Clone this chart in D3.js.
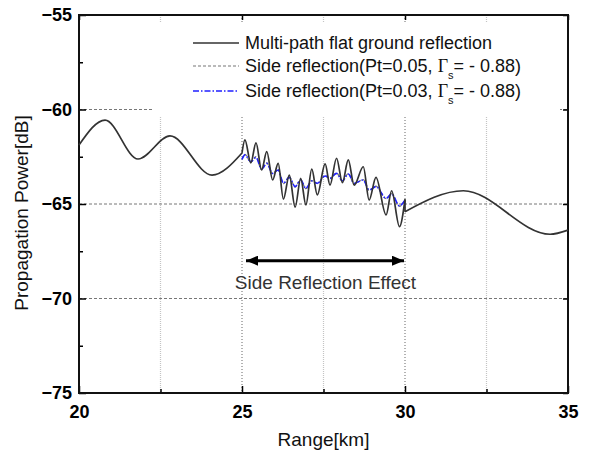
<!DOCTYPE html>
<meta charset="utf-8">
<style>
    body { margin: 0; background: #fff; }
    svg { font-family: "Liberation Sans", Arial, sans-serif; }
    .axis text { font-size: 18px; font-weight: bold; fill: #000; font-family: "Liberation Sans", Arial, sans-serif; }
    .axis line { stroke: #000; stroke-width: 1.5; }
    .axis path { display: none; }
</style>
<svg width="594" height="457"></svg>
<script src="https://d3js.org/d3.v7.min.js"></script>
<script>

    // multi-path flat ground reflection, split where the side reflection kicks in
    var leftRange = [20.0, 20.80, 21.81, 22.79, 24.08, 25.0];
    var leftPower = [-61.88, -60.56, -62.62, -61.40, -63.47, -62.30];

    var midRange = [25.0, 25.09, 25.27, 25.43, 25.60, 25.76, 25.94, 26.11, 26.27, 26.45,
                    26.63, 26.80, 26.96, 27.14, 27.31, 27.55, 27.70, 27.90, 28.08, 28.26,
                    28.44, 28.72, 28.90, 29.11, 29.42, 29.59, 29.83, 30.0];
    var midPower = [-62.30, -61.61, -62.83, -61.77, -63.20, -62.23, -63.73, -62.85, -64.74, -63.47,
                    -65.17, -63.64, -65.05, -63.16, -64.52, -62.88, -64.00, -62.58, -63.87, -62.67,
                    -64.00, -63.03, -64.79, -63.59, -65.58, -64.30, -66.20, -64.75];

    var rightRange = [30.0, 31.79, 34.45, 35.0];
    var rightPower = [-65.41, -64.30, -66.60, -66.38];

    // side reflection curves (25..30 km)
    var side05Power = [-62.62, -62.38, -62.78, -62.50, -63.18, -62.83, -63.40, -63.18, -63.92, -63.57,
                       -64.10, -63.71, -64.19, -63.76, -63.92, -63.50, -63.66, -63.36, -63.79, -63.39,
                       -63.92, -63.71, -64.28, -64.06, -64.72, -64.45, -65.12, -64.77];
    var side03Power = [-62.64, -62.40, -62.76, -62.53, -63.16, -62.85, -63.38, -63.20, -63.90, -63.59,
                       -64.08, -63.73, -64.17, -63.78, -63.90, -63.52, -63.64, -63.38, -63.77, -63.41,
                       -63.90, -63.73, -64.26, -64.08, -64.70, -64.47, -65.10, -64.79];

    var xTicks = [20, 25, 30, 35],
        xMinor = [22.5, 27.5, 32.5],
        yTicks = [-75, -70, -65, -60, -55],
        yMinor = [-72.5, -67.5, -62.5, -57.5],
        xGridMajor = [25, 30],
        xGridMinor = [22.5, 27.5, 32.5],
        yGrid = [-70, -65, -60];

    var legendLabels = ["Multi-path flat ground reflection",
                        "Side reflection(Pt=0.05, ",
                        "Side reflection(Pt=0.03, "];

    var svg = d3.select("svg"),
        margin = {top: 15, right: 26, bottom: 64, left: 79},
        width = +svg.attr("width") - margin.left - margin.right,
        height = +svg.attr("height") - margin.top - margin.bottom;

    var x = d3.scaleLinear().domain([20, 35]).range([0, width]),
        y = d3.scaleLinear().domain([-75, -55]).range([height, 0]);

    var g = svg.append("g")
        .attr("transform", "translate(" + margin.left + "," + margin.top + ")");

    // grid
    g.selectAll(".vgrid-minor").data(xGridMinor).enter().append("line")
        .attr("x1", function(d) { return x(d); }).attr("x2", function(d) { return x(d); })
        .attr("y1", 0).attr("y2", height)
        .attr("stroke", "#c4c4c4").attr("stroke-width", 1.2).attr("stroke-dasharray", "1,1");
    g.selectAll(".vgrid-major").data(xGridMajor).enter().append("line")
        .attr("x1", function(d) { return x(d); }).attr("x2", function(d) { return x(d); })
        .attr("y1", 0).attr("y2", height)
        .attr("stroke", "#666").attr("stroke-width", 1).attr("stroke-dasharray", "1,2");
    g.selectAll(".hgrid").data(yGrid).enter().append("line")
        .attr("x1", 0).attr("x2", width)
        .attr("y1", function(d) { return y(d); }).attr("y2", function(d) { return y(d); })
        .attr("stroke", "#777").attr("stroke-width", 1).attr("stroke-dasharray", "3,2");

    // legend box hides the grid behind it
    var legend = g.append("g");
    legend.append("rect")
        .attr("x", 73).attr("y", 7)
        .attr("width", 408).attr("height", 94)
        .attr("fill", "#fff");

    // axes (ticks inward)
    g.append("g").attr("class", "axis")
        .attr("transform", "translate(0," + height + ")")
        .call(d3.axisBottom(x).tickValues(xTicks).tickSizeInner(-7).tickSizeOuter(0).tickPadding(12).tickFormat(d3.format("d")));
    g.append("g").attr("class", "axis")
        .attr("transform", "translate(0," + height + ")")
        .call(d3.axisBottom(x).tickValues(xMinor).tickSizeInner(-4).tickSizeOuter(0).tickFormat(""));
    g.append("g").attr("class", "axis")
        .call(d3.axisTop(x).tickValues(xTicks).tickSizeInner(-5).tickSizeOuter(0).tickFormat(""));
    g.append("g").attr("class", "axis")
        .call(d3.axisLeft(y).tickValues(yTicks).tickSizeInner(-7).tickSizeOuter(0).tickPadding(7).tickFormat(d3.format("d")));
    g.append("g").attr("class", "axis")
        .call(d3.axisLeft(y).tickValues(yMinor).tickSizeInner(-4).tickSizeOuter(0).tickFormat(""));
    g.append("g").attr("class", "axis")
        .attr("transform", "translate(" + width + ",0)")
        .call(d3.axisRight(y).tickValues(yTicks).tickSizeInner(-5).tickSizeOuter(0).tickFormat(""));

    g.append("rect")
        .attr("width", width).attr("height", height)
        .attr("fill", "none").attr("stroke", "#111").attr("stroke-width", 2);

    var line = d3.line()
        .curve(d3.curveMonotoneX)
        .x(function(d) { return x(d[0]); })
        .y(function(d) { return y(d[1]); });

    function pairs(xs, ys) { return xs.map(function(v, i) { return [v, ys[i]]; }); }

    g.append("path").datum(pairs(midRange, side05Power))
        .attr("fill", "none").attr("stroke", "#777").attr("stroke-width", 1.3)
        .attr("stroke-dasharray", "3,2").attr("d", line);

    g.append("path").datum(pairs(midRange, side03Power))
        .attr("fill", "none").attr("stroke", "#1f1fff").attr("stroke-width", 1.6)
        .attr("stroke-dasharray", "6,2,1.5,2").attr("d", line);

    [pairs(leftRange, leftPower), pairs(midRange, midPower), pairs(rightRange, rightPower)].forEach(function(seg) {
        g.append("path").datum(seg)
            .attr("fill", "none").attr("stroke", "#333").attr("stroke-width", 1.7)
            .attr("d", line);
    });
    // jump at 30 km where the side reflection ends
    g.append("line")
        .attr("x1", x(midRange[midRange.length - 1])).attr("x2", x(rightRange[0]))
        .attr("y1", y(midPower[midPower.length - 1])).attr("y2", y(rightPower[0]))
        .attr("stroke", "#333").attr("stroke-width", 1.7);

    // legend
    var rows = [
        {y: 28, stroke: "#333", dash: null, w: 1.3},
        {y: 51, stroke: "#777", dash: "3,2", w: 1.2},
        {y: 76, stroke: "#1f1fff", dash: "6,2,1.5,2", w: 1.6}
    ];
    rows.forEach(function(r, i) {
        legend.append("line")
            .attr("x1", 114).attr("x2", 160)
            .attr("y1", r.y).attr("y2", r.y)
            .attr("stroke", r.stroke).attr("stroke-width", r.w)
            .attr("stroke-dasharray", r.dash);
        var t = legend.append("text")
            .attr("x", 166).attr("y", r.y + 6)
            .attr("font-size", 18).attr("fill", "#111")
            .text(legendLabels[i]);
        if (i > 0) {
            t.append("tspan").attr("font-family", "'Liberation Serif', 'DejaVu Serif', serif").text("\u0393");
            t.append("tspan").attr("font-size", 11).attr("dy", 7).text("s");
            t.append("tspan").attr("dy", -7).text("= - 0.88)");
        }
    });

    // side reflection effect annotation
    var defs = svg.append("defs");
    ["start", "end"].forEach(function(k) {
        defs.append("marker")
            .attr("id", "arrow-" + k)
            .attr("markerUnits", "userSpaceOnUse")
            .attr("viewBox", "0 0 12 10")
            .attr("refX", k === "end" ? 12 : 0).attr("refY", 5)
            .attr("markerWidth", 12).attr("markerHeight", 10)
            .attr("orient", "auto")
            .append("path")
            .attr("d", k === "end" ? "M0,0L12,5L0,10Z" : "M12,0L0,5L12,10Z")
            .attr("fill", "#000");
    });
    g.append("line")
        .attr("x1", x(25) + 4).attr("x2", x(30) - 1)
        .attr("y1", y(-68)).attr("y2", y(-68))
        .attr("stroke", "#000").attr("stroke-width", 3)
        .attr("marker-start", "url(#arrow-start)")
        .attr("marker-end", "url(#arrow-end)");
    g.append("text")
        .attr("x", x(27.5) + 2).attr("y", y(-69.5))
        .attr("text-anchor", "middle")
        .attr("font-size", 19).attr("fill", "#333")
        .text("Side Reflection Effect");

    // axis titles
    svg.append("text")
        .attr("x", margin.left + width / 2).attr("y", 446)
        .attr("text-anchor", "middle")
        .attr("font-size", 19).attr("fill", "#111")
        .text("Range[km]");
    svg.append("text")
        .attr("transform", "translate(28," + 213 + ") rotate(-90)")
        .attr("text-anchor", "middle")
        .attr("font-size", 19).attr("fill", "#111")
        .text("Propagation Power[dB]");

</script>
